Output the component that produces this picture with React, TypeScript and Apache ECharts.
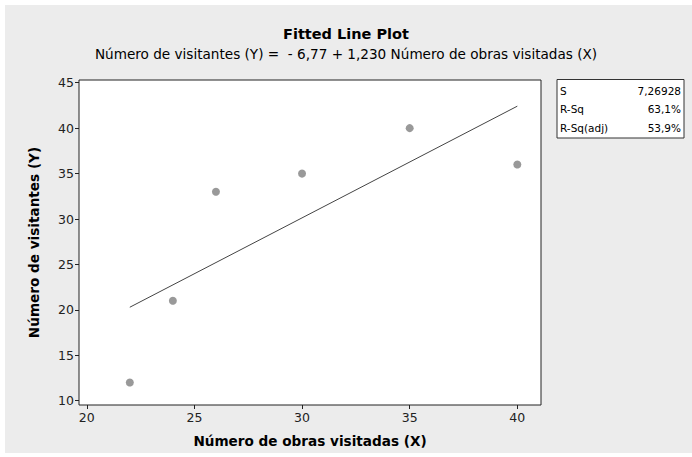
import React, { useEffect, useRef } from "react";
import * as echarts from "echarts";

const obrasX = [22, 24, 26, 30, 35, 40];
const visitantesY = [12, 21, 33, 35, 40, 36];
const fitX = [22, 40];
const fitY = [20.29, 42.42];
const xTicks = [20, 25, 30, 35, 40];
const yTicks = [10, 15, 20, 25, 30, 35, 40, 45];
const statNames = ["S", "R-Sq", "R-Sq(adj)"];
const statValues = ["7,26928", "63,1%", "53,9%"];

const FONT = "DejaVu Sans";

export default function App() {
  const ref = useRef<HTMLDivElement>(null);
  useEffect(() => {
    if (!ref.current) return;
    const chart = echarts.init(ref.current, null, { renderer: "svg" });
    const statTexts: any[] = [];
    statNames.forEach((n, i) => {
      statTexts.push({
        type: "text",
        left: 560,
        top: 85 + i * 18.5,
        style: { text: n, fontFamily: FONT, fontSize: 10.5, fill: "#000" },
      });
      statTexts.push({
        type: "text",
        right: 11,
        top: 85 + i * 18.5,
        style: { text: statValues[i], fontFamily: FONT, fontSize: 10.5, fill: "#000", align: "right" },
      });
    });
    chart.setOption({
      animation: false,
      backgroundColor: "#ffffff",
      graphic: [
        {
          type: "rect",
          z: -10,
          shape: { x: 5, y: 5, width: 687, height: 448 },
          style: { fill: "#ececec" },
          silent: true,
        },
        {
          type: "text",
          left: "center",
          top: 26,
          style: { text: "Fitted Line Plot", fontFamily: FONT, fontSize: 14.5, fontWeight: "bold", fill: "#000" },
        },
        {
          type: "text",
          left: "center",
          top: 47,
          style: {
            text: "Número de visitantes (Y) =  - 6,77 + 1,230 Número de obras visitadas (X)",
            fontFamily: FONT,
            fontSize: 13.6,
            fill: "#000",
          },
        },
        {
          type: "rect",
          shape: { x: 557, y: 79.5, width: 127, height: 58.5 },
          style: { fill: "#fff", stroke: "#333", lineWidth: 1 },
        },
        ...statTexts,
      ],
      grid: {
        left: 79,
        right: 151,
        top: 80,
        bottom: 52,
        show: true,
        backgroundColor: "#fff",
        borderColor: "#222",
        borderWidth: 1,
      },
      xAxis: {
        type: "value",
        min: 19.64,
        max: 41.1,
        name: "Número de obras visitadas (X)",
        nameLocation: "middle",
        nameGap: 29,
        nameTextStyle: { fontFamily: FONT, fontSize: 13.6, fontWeight: "bold", color: "#000" },
        axisLine: { show: false },
        splitLine: { show: false },
        axisTick: { show: true, length: 4, lineStyle: { color: "#222" }, customValues: xTicks },
        axisLabel: { fontFamily: FONT, fontSize: 12.5, color: "#222", margin: 6, customValues: xTicks },
      },
      yAxis: {
        type: "value",
        min: 9.53,
        max: 45.3,
        name: "Número de visitantes (Y)",
        nameLocation: "middle",
        nameGap: 38,
        nameTextStyle: { fontFamily: FONT, fontSize: 13.6, fontWeight: "bold", color: "#000" },
        axisLine: { show: false },
        splitLine: { show: false },
        axisTick: { show: true, length: 4, lineStyle: { color: "#222" }, customValues: yTicks },
        axisLabel: { fontFamily: FONT, fontSize: 12.5, color: "#222", margin: 5, customValues: yTicks },
      },
      series: [
        {
          type: "line",
          data: fitX.map((x, i) => [x, fitY[i]]),
          showSymbol: false,
          lineStyle: { color: "#444", width: 1 },
          silent: true,
        },
        {
          type: "scatter",
          data: obrasX.map((x, i) => [x, visitantesY[i]]),
          symbol: "circle",
          symbolSize: 8,
          itemStyle: { color: "#7f7f7f" },
        },
      ],
    });
    return () => chart.dispose();
  }, []);
  return <div ref={ref} style={{ width: 692, height: 457, position: "absolute", left: 0, top: 0 }} />;
}
